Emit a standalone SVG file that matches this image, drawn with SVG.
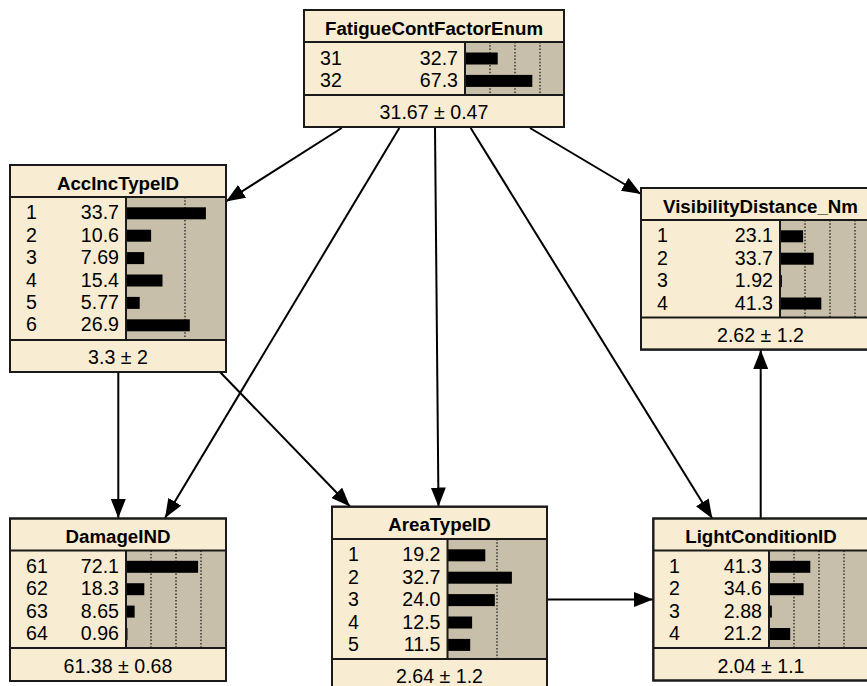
<svg xmlns="http://www.w3.org/2000/svg" width="867" height="686" viewBox="0 0 867 686">
  <style>
    .box { fill: #F8EDD3; stroke: #1a1a1a; stroke-width: 2; }
    .frame { fill: none; stroke: #1a1a1a; stroke-width: 2; }
    .belief { fill: #C8BFAA; }
    .sep { stroke: #1a1a1a; stroke-width: 2; fill: none; }
    .grid { stroke: #111; stroke-width: 1.2; stroke-dasharray: 1.5 1.8; fill: none; }
    .bar { fill: #000; }
    .title { font-family: "Liberation Sans", Arial, sans-serif; font-size: 18.7px; font-weight: bold; text-anchor: middle; fill: #000; }
    .st { font-family: "Liberation Sans", Arial, sans-serif; font-size: 19.6px; fill: #000; }
    .val { font-family: "Liberation Sans", Arial, sans-serif; font-size: 19.6px; fill: #000; text-anchor: end; }
    .foot { font-family: "Liberation Sans", Arial, sans-serif; font-size: 19.6px; fill: #000; text-anchor: middle; }
    .link { stroke: #000; stroke-width: 2; fill: none; marker-end: url(#arrow); }
  </style>
  <defs>
    <marker id="arrow" markerUnits="userSpaceOnUse" markerWidth="19" markerHeight="15" refX="19" refY="7.5" orient="auto">
      <path d="M0,0 L19,7.5 L0,15 Z" fill="#000"/>
    </marker>
  </defs>

  <!-- connectors -->
  <g id="connectors">
    <line class="link" x1="341.7" y1="128" x2="226" y2="201.5"/>
    <line class="link" x1="530" y1="128" x2="641" y2="194"/>
    <line class="link" x1="399.3" y1="128" x2="165" y2="518"/>
    <line class="link" x1="435" y1="128" x2="438.5" y2="506.5"/>
    <line class="link" x1="470.7" y1="128" x2="712.3" y2="518.5"/>
    <line class="link" x1="118.3" y1="372" x2="118.3" y2="518"/>
    <line class="link" x1="220" y1="372" x2="350" y2="506.5"/>
    <line class="link" x1="547" y1="599.5" x2="653" y2="599.5"/>
    <line class="link" x1="760.7" y1="518.5" x2="760.7" y2="350"/>
  </g>

  <!-- FatigueContFactorEnum -->
  <g id="FatigueContFactorEnum">
    <rect class="box" x="304" y="10" width="260" height="117"/>
    <rect class="belief" x="465" y="42" width="99" height="53"/>
    <line class="grid" x1="490" y1="42" x2="490" y2="95"/>
    <line class="grid" x1="515" y1="42" x2="515" y2="95"/>
    <line class="grid" x1="540" y1="42" x2="540" y2="95"/>
    <rect class="bar" x="465" y="52.5" width="32.7" height="12"/>
    <rect class="bar" x="465" y="74.9" width="67.3" height="12"/>
    <line class="sep" x1="304" y1="42" x2="564" y2="42"/>
    <line class="sep" x1="304" y1="95" x2="564" y2="95"/>
    <line class="sep" x1="465" y1="42" x2="465" y2="95"/>
    <rect class="frame" x="304" y="10" width="260" height="117"/>
    <text class="title" x="434" y="34.5">FatigueContFactorEnum</text>
    <text class="st" x="320" y="64.5">31</text>
    <text class="val" x="458" y="64.5">32.7</text>
    <text class="st" x="320" y="86.9">32</text>
    <text class="val" x="458" y="86.9">67.3</text>
    <text class="foot" x="434" y="119">31.67 ± 0.47</text>
  </g>

  <!-- AccIncTypeID -->
  <g id="AccIncTypeID">
    <rect class="box" x="10" y="165" width="216" height="207"/>
    <rect class="belief" x="126" y="197" width="100" height="143"/>
    <line class="grid" x1="185" y1="197" x2="185" y2="340"/>
    <rect class="bar" x="126" y="207.3" width="79.9" height="12"/>
    <rect class="bar" x="126" y="229.7" width="25.1" height="12"/>
    <rect class="bar" x="126" y="252.1" width="18.2" height="12"/>
    <rect class="bar" x="126" y="274.5" width="36.5" height="12"/>
    <rect class="bar" x="126" y="296.9" width="13.7" height="12"/>
    <rect class="bar" x="126" y="319.3" width="63.8" height="12"/>
    <line class="sep" x1="10" y1="197" x2="226" y2="197"/>
    <line class="sep" x1="10" y1="340" x2="226" y2="340"/>
    <line class="sep" x1="126" y1="197" x2="126" y2="340"/>
    <rect class="frame" x="10" y="165" width="216" height="207"/>
    <text class="title" x="118" y="189.5">AccIncTypeID</text>
    <text class="st" x="26" y="219.3">1</text><text class="val" x="119" y="219.3">33.7</text>
    <text class="st" x="26" y="241.7">2</text><text class="val" x="119" y="241.7">10.6</text>
    <text class="st" x="26" y="264.1">3</text><text class="val" x="119" y="264.1">7.69</text>
    <text class="st" x="26" y="286.5">4</text><text class="val" x="119" y="286.5">15.4</text>
    <text class="st" x="26" y="308.9">5</text><text class="val" x="119" y="308.9">5.77</text>
    <text class="st" x="26" y="331.3">6</text><text class="val" x="119" y="331.3">26.9</text>
    <text class="foot" x="118" y="364">3.3 ± 2</text>
  </g>

  <!-- VisibilityDistance_Nm -->
  <g id="VisibilityDistance_Nm">
    <rect class="box" x="641" y="188" width="239" height="161.6"/>
    <rect class="belief" x="780" y="220" width="100" height="97.6"/>
    <line class="grid" x1="805" y1="220" x2="805" y2="317.6"/>
    <line class="grid" x1="830" y1="220" x2="830" y2="317.6"/>
    <line class="grid" x1="855" y1="220" x2="855" y2="317.6"/>
    <rect class="bar" x="780" y="230.3" width="23.1" height="12"/>
    <rect class="bar" x="780" y="252.7" width="33.7" height="12"/>
    <rect class="bar" x="780" y="275.1" width="1.92" height="12"/>
    <rect class="bar" x="780" y="297.5" width="41.3" height="12"/>
    <line class="sep" x1="641" y1="220" x2="880" y2="220"/>
    <line class="sep" x1="641" y1="317.6" x2="880" y2="317.6"/>
    <line class="sep" x1="780" y1="220" x2="780" y2="317.6"/>
    <rect class="frame" x="641" y="188" width="239" height="161.6"/>
    <text class="title" x="760.5" y="212.5">VisibilityDistance_Nm</text>
    <text class="st" x="657" y="242.3">1</text><text class="val" x="773" y="242.3">23.1</text>
    <text class="st" x="657" y="264.7">2</text><text class="val" x="773" y="264.7">33.7</text>
    <text class="st" x="657" y="287.1">3</text><text class="val" x="773" y="287.1">1.92</text>
    <text class="st" x="657" y="309.5">4</text><text class="val" x="773" y="309.5">41.3</text>
    <text class="foot" x="760.5" y="341.6">2.62 ± 1.2</text>
  </g>

  <!-- DamageIND -->
  <g id="DamageIND">
    <rect class="box" x="10" y="518.5" width="216" height="162.5"/>
    <rect class="belief" x="126" y="550.5" width="100" height="97.6"/>
    <line class="grid" x1="151" y1="550.5" x2="151" y2="648.1"/>
    <line class="grid" x1="176" y1="550.5" x2="176" y2="648.1"/>
    <line class="grid" x1="201" y1="550.5" x2="201" y2="648.1"/>
    <rect class="bar" x="126" y="560.8" width="72.1" height="12"/>
    <rect class="bar" x="126" y="583.2" width="18.3" height="12"/>
    <rect class="bar" x="126" y="605.6" width="8.65" height="12"/>
    <rect class="bar" x="126" y="628" width="1.5" height="12"/>
    <line class="sep" x1="10" y1="550.5" x2="226" y2="550.5"/>
    <line class="sep" x1="10" y1="648.1" x2="226" y2="648.1"/>
    <line class="sep" x1="126" y1="550.5" x2="126" y2="648.1"/>
    <rect class="frame" x="10" y="518.5" width="216" height="162.5"/>
    <text class="title" x="118" y="543">DamageIND</text>
    <text class="st" x="26" y="572.8">61</text><text class="val" x="119" y="572.8">72.1</text>
    <text class="st" x="26" y="595.2">62</text><text class="val" x="119" y="595.2">18.3</text>
    <text class="st" x="26" y="617.6">63</text><text class="val" x="119" y="617.6">8.65</text>
    <text class="st" x="26" y="640">64</text><text class="val" x="119" y="640">0.96</text>
    <text class="foot" x="118" y="672.5">61.38 ± 0.68</text>
  </g>

  <!-- AreaTypeID -->
  <g id="AreaTypeID">
    <rect class="box" x="332" y="506.7" width="215" height="185"/>
    <rect class="belief" x="447.5" y="539" width="99.5" height="120"/>
    <line class="grid" x1="497" y1="539" x2="497" y2="659"/>
    <rect class="bar" x="447.5" y="549.3" width="37.8" height="12"/>
    <rect class="bar" x="447.5" y="571.7" width="64.4" height="12"/>
    <rect class="bar" x="447.5" y="594.1" width="47.3" height="12"/>
    <rect class="bar" x="447.5" y="616.5" width="24.6" height="12"/>
    <rect class="bar" x="447.5" y="638.9" width="22.7" height="12"/>
    <line class="sep" x1="332" y1="539" x2="547" y2="539"/>
    <line class="sep" x1="332" y1="659" x2="547" y2="659"/>
    <line class="sep" x1="447.5" y1="539" x2="447.5" y2="659"/>
    <rect class="frame" x="332" y="506.7" width="215" height="185"/>
    <text class="title" x="439.5" y="531.2">AreaTypeID</text>
    <text class="st" x="348" y="561.3">1</text><text class="val" x="440.5" y="561.3">19.2</text>
    <text class="st" x="348" y="583.7">2</text><text class="val" x="440.5" y="583.7">32.7</text>
    <text class="st" x="348" y="606.1">3</text><text class="val" x="440.5" y="606.1">24.0</text>
    <text class="st" x="348" y="628.5">4</text><text class="val" x="440.5" y="628.5">12.5</text>
    <text class="st" x="348" y="650.9">5</text><text class="val" x="440.5" y="650.9">11.5</text>
    <text class="foot" x="439.5" y="683">2.64 ± 1.2</text>
  </g>

  <!-- LightConditionID -->
  <g id="LightConditionID">
    <rect class="box" x="653.3" y="518.5" width="215.7" height="162"/>
    <rect class="belief" x="769" y="550.5" width="100" height="97.6"/>
    <line class="grid" x1="794" y1="550.5" x2="794" y2="648.1"/>
    <line class="grid" x1="819" y1="550.5" x2="819" y2="648.1"/>
    <line class="grid" x1="844" y1="550.5" x2="844" y2="648.1"/>
    <rect class="bar" x="769" y="560.8" width="41.3" height="12"/>
    <rect class="bar" x="769" y="583.2" width="34.6" height="12"/>
    <rect class="bar" x="769" y="605.6" width="2.88" height="12"/>
    <rect class="bar" x="769" y="628" width="21.2" height="12"/>
    <line class="sep" x1="653.3" y1="550.5" x2="869" y2="550.5"/>
    <line class="sep" x1="653.3" y1="648.1" x2="869" y2="648.1"/>
    <line class="sep" x1="769" y1="550.5" x2="769" y2="648.1"/>
    <rect class="frame" x="653.3" y="518.5" width="215.7" height="162"/>
    <text class="title" x="761" y="543">LightConditionID</text>
    <text class="st" x="669" y="572.8">1</text><text class="val" x="762" y="572.8">41.3</text>
    <text class="st" x="669" y="595.2">2</text><text class="val" x="762" y="595.2">34.6</text>
    <text class="st" x="669" y="617.6">3</text><text class="val" x="762" y="617.6">2.88</text>
    <text class="st" x="669" y="640">4</text><text class="val" x="762" y="640">21.2</text>
    <text class="foot" x="761" y="672.5">2.04 ± 1.1</text>
  </g>
</svg>
